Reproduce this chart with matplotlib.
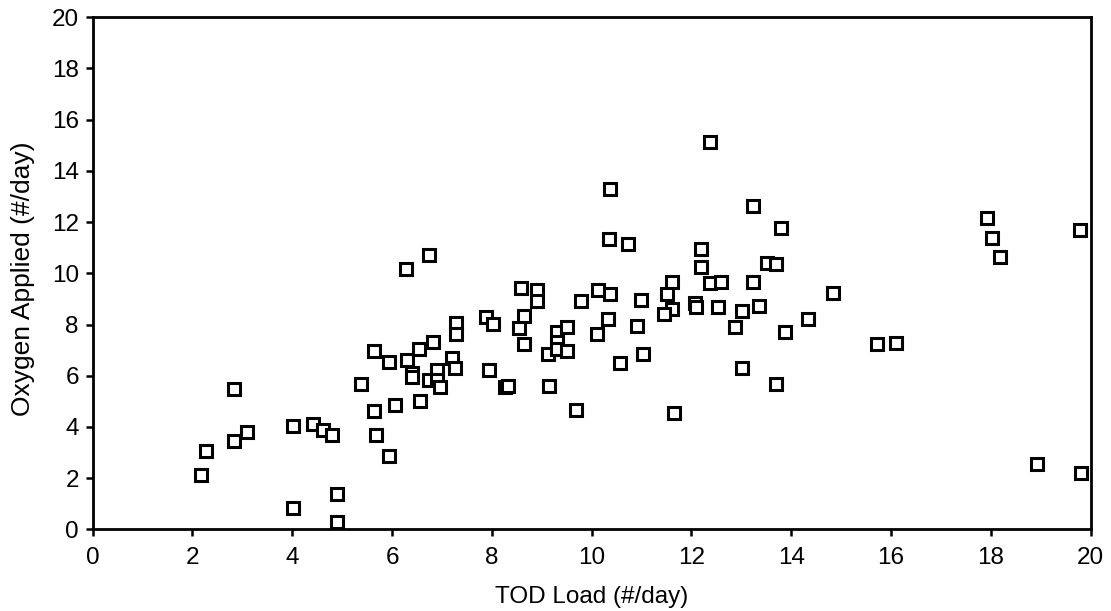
import matplotlib
matplotlib.use("Agg")
import matplotlib.pyplot as plt

plt.rcParams['font.family'] = ['Liberation Sans', 'DejaVu Sans']

tod_load = [2.17, 2.27, 2.83, 2.83, 3.10, 4.02, 4.02, 4.42, 4.61, 4.80,
            4.89, 4.89, 5.37, 5.64, 5.64, 5.68, 5.94, 5.94, 6.05, 6.29,
            6.53, 6.39, 6.39, 6.56, 6.83, 6.91, 6.74, 6.91, 6.97, 7.21,
            7.27, 7.29, 7.29, 6.28, 6.74, 10.35, 10.73, 8.58, 8.91, 8.90,
            9.79, 10.13, 10.37, 10.99, 10.32, 10.90, 10.10, 7.89, 8.03, 8.64,
            8.54, 8.64, 7.95, 8.26, 8.33, 9.15, 9.69, 9.13, 9.31, 9.31,
            9.31, 9.50, 9.51, 10.57, 11.02, 12.37, 10.37, 13.23, 13.79, 12.19,
            12.19, 13.51, 13.69, 11.60, 12.37, 12.60, 13.24, 11.50, 11.60, 11.44,
            12.07, 12.10, 12.54, 13.01, 13.35, 14.83, 14.34, 13.87, 12.87, 13.01,
            13.69, 11.65, 15.72, 16.10, 17.92, 18.03, 18.19, 19.78, 18.93, 19.80]

oxygen_applied = [2.12, 3.04, 5.48, 3.46, 3.81, 4.04, 0.84, 4.10, 3.88, 3.68,
                  1.37, 0.30, 5.67, 6.97, 4.63, 3.68, 6.55, 2.86, 4.85, 6.61,
                  7.03, 6.12, 5.94, 5.01, 7.33, 6.22, 5.83, 5.83, 5.55, 6.70,
                  6.29, 8.04, 7.61, 10.17, 10.72, 11.33, 11.13, 9.41, 9.34, 8.93,
                  8.90, 9.33, 9.21, 8.95, 8.20, 7.95, 7.63, 8.29, 8.03, 8.33,
                  7.86, 7.25, 6.22, 5.55, 5.60, 5.61, 4.66, 6.83, 7.70, 7.31,
                  7.05, 7.89, 6.96, 6.48, 6.85, 15.14, 13.29, 12.64, 11.76, 10.96,
                  10.25, 10.39, 10.36, 9.65, 9.61, 9.65, 9.65, 9.20, 8.60, 8.41,
                  8.85, 8.70, 8.67, 8.54, 8.74, 9.22, 8.20, 7.70, 7.92, 6.31,
                  5.68, 4.53, 7.23, 7.28, 12.15, 11.37, 10.65, 11.69, 2.55, 2.21]

x_ticks = [0, 2, 4, 6, 8, 10, 12, 14, 16, 18, 20]
y_ticks = [0, 2, 4, 6, 8, 10, 12, 14, 16, 18, 20]

fig = plt.figure(figsize=(11.11, 6.11), dpi=100)
ax = fig.add_axes([0.0834, 0.1337, 0.9817 - 0.0834, 0.9717 - 0.1337])

ax.plot(tod_load, oxygen_applied, linestyle='none', marker='s', markersize=8,
        markerfacecolor='white', markeredgecolor='black', markeredgewidth=2.2)

ax.set_xlim(0, 20)
ax.set_ylim(0, 20)
ax.set_xticks(x_ticks)
ax.set_yticks(y_ticks)
ax.tick_params(direction='out', length=5, width=1.8, labelsize=17.5)
ax.tick_params(axis='x', pad=8)
ax.tick_params(axis='y', pad=5)
for s in ax.spines.values():
    s.set_linewidth(2.0)

ax.set_xlabel('TOD Load (#/day)', fontsize=17.5, labelpad=12)
ax.set_ylabel('Oxygen Applied (#/day)', fontsize=19, labelpad=12)
ax.yaxis.label.set_y(0.489)

fig.savefig('out.png', dpi=100)
